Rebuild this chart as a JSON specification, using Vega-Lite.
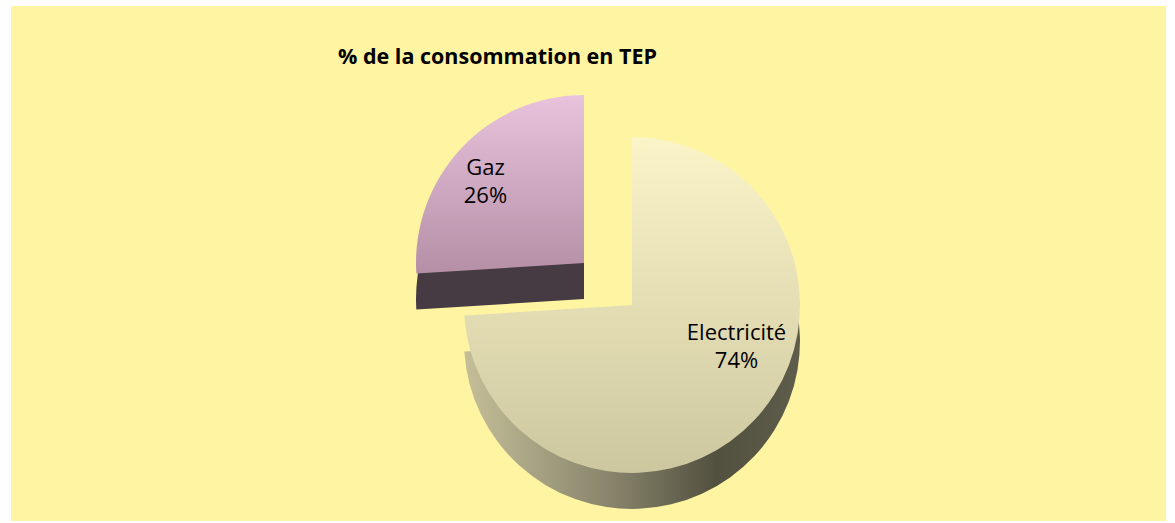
{
  "$schema": "https://vega.github.io/schema/vega-lite/v6.json",
  "autosize": {"type": "none"},
  "width": 1155,
  "height": 515,
  "padding": {"left": 11, "top": 6, "right": 9, "bottom": 2},
  "background": "#ffffff",
  "view": {"fill": "#fff4a2", "stroke": null},
  "config": {"view": {"fill": "#fff4a2", "stroke": null}},
  "title": {
    "text": "% de la consommation en TEP",
    "anchor": "start",
    "frame": "group",
    "dx": 327,
    "offset": -79,
    "baseline": "alphabetic",
    "font": "Open Sans",
    "fontSize": 21.5,
    "fontWeight": "bold",
    "color": "#000000"
  },
  "data": {"values": [
    {"cat": "Electricité", "share": 0.74},
    {"cat": "Gaz", "share": 0.26}
  ]},
  "encoding": {
    "theta": {"field": "share", "type": "quantitative", "stack": true, "scale": {"domain": [0, 1]}},
    "order": {"field": "share", "type": "quantitative", "sort": "descending"}
  },
  "layer": [
    {
      "mark": {"type": "arc", "radius": 168, "xOffset": -4.5, "yOffset": 35.5, "fill": "#463a43"},
      "encoding": {"opacity": {"condition": {"test": "datum.cat === 'Gaz'", "value": 1}, "value": 0}}
    },
    {
      "mark": {"type": "arc", "radius": 168, "xOffset": -4.5, "yOffset": -0.5,
        "fill": {"gradient": "linear", "x1": 0, "y1": 0, "x2": 0, "y2": 1,
          "stops": [{"offset": 0, "color": "#e9c3dc"}, {"offset": 1, "color": "#b48fa6"}]}},
      "encoding": {"opacity": {"condition": {"test": "datum.cat === 'Gaz'", "value": 1}, "value": 0}}
    },
    {
      "mark": {"type": "arc", "radius": 168, "xOffset": 43.5, "yOffset": 77.5,
        "fill": {"gradient": "linear", "x1": 0, "y1": 0, "x2": 1, "y2": 0,
          "stops": [{"offset": 0, "color": "#c4bf98"}, {"offset": 0.45, "color": "#86826a"}, {"offset": 0.75, "color": "#52503f"}, {"offset": 1, "color": "#5e5c4a"}]}},
      "encoding": {"opacity": {"condition": {"test": "datum.cat === 'Electricité'", "value": 1}, "value": 0}}
    },
    {
      "mark": {"type": "arc", "radius": 168, "xOffset": 43.5, "yOffset": 41.5,
        "fill": {"gradient": "linear", "x1": 0, "y1": 0, "x2": 0, "y2": 1,
          "stops": [{"offset": 0, "color": "#fbf4c9"}, {"offset": 1, "color": "#cdc7a0"}]}},
      "encoding": {"opacity": {"condition": {"test": "datum.cat === 'Electricité'", "value": 1}, "value": 0}}
    },
    {
      "mark": {"type": "text", "radius": 105, "xOffset": -4.5, "yOffset": -0.5, "dx": -22, "dy": -23, "font": "Open Sans", "fontSize": 22, "color": "#000000"},
      "encoding": {
        "text": {"field": "cat", "type": "nominal"},
        "opacity": {"condition": {"test": "datum.cat === 'Gaz'", "value": 1}, "value": 0}
      }
    },
    {
      "mark": {"type": "text", "radius": 105, "xOffset": -4.5, "yOffset": -0.5, "dx": -22, "dy": 5, "font": "Open Sans", "fontSize": 22, "color": "#000000"},
      "encoding": {
        "text": {"field": "share", "type": "quantitative", "format": ".0%"},
        "opacity": {"condition": {"test": "datum.cat === 'Gaz'", "value": 1}, "value": 0}
      }
    },
    {
      "mark": {"type": "text", "radius": 105, "xOffset": 43.5, "yOffset": 41.5, "dx": 28, "dy": -44, "font": "Open Sans", "fontSize": 22, "color": "#000000"},
      "encoding": {
        "text": {"field": "cat", "type": "nominal"},
        "opacity": {"condition": {"test": "datum.cat === 'Electricité'", "value": 1}, "value": 0}
      }
    },
    {
      "mark": {"type": "text", "radius": 105, "xOffset": 43.5, "yOffset": 41.5, "dx": 28, "dy": -16, "font": "Open Sans", "fontSize": 22, "color": "#000000"},
      "encoding": {
        "text": {"field": "share", "type": "quantitative", "format": ".0%"},
        "opacity": {"condition": {"test": "datum.cat === 'Electricité'", "value": 1}, "value": 0}
      }
    }
  ]
}
